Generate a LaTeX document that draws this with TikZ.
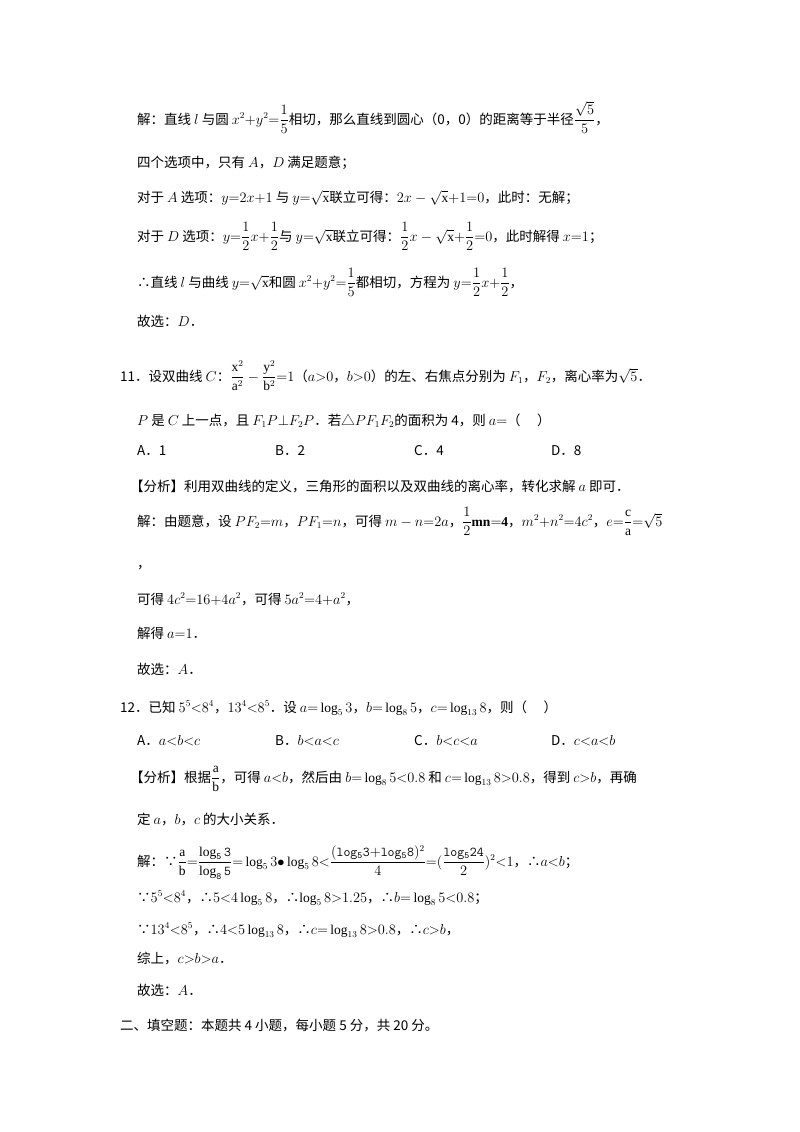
\documentclass[tikz,border=0pt]{standalone}
\usepackage{amsmath}
\usepackage{fontspec}
\setmainfont{Liberation Serif}
\newfontfamily\cjk{Noto Sans CJK SC}
\begin{document}
\begin{tikzpicture}[x=1pt,y=-1pt,
  txt/.style={anchor=base west,inner sep=0pt,font=\cjk\fontsize{13.5}{16}\selectfont}]
\useasboundingbox[fill=white] (0,0) rectangle (800,1132);
\node[txt] (l1) at (137,124) {解：直线 $l$ 与圆 $x^2{+}y^2{=}\dfrac{1}{5}$相切，那么直线到圆心（0，0）的距离等于半径$\dfrac{\sqrt5}{5}$，};
\node[txt] (l2) at (137,167) {四个选项中，只有 $A$，$D$ 满足题意；};
\node[txt] (l3) at (137,202) {对于 $A$ 选项：$y{=}2x{+}1$ 与 $y{=}\sqrt{\mathrm{x}}$联立可得：$2x-\sqrt{\mathrm{x}}{+}1{=}0$，此时：无解；};
\node[txt] (l4) at (137,241) {对于 $D$ 选项：$y{=}\dfrac12x{+}\dfrac12$与 $y{=}\sqrt{\mathrm{x}}$联立可得：$\dfrac12x-\sqrt{\mathrm{x}}{+}\dfrac12{=}0$，此时解得 $x{=}1$；};
\node[txt] (l5) at (137,287) {∴直线 $l$ 与曲线 $y{=}\sqrt{\mathrm{x}}$和圆 $x^2{+}y^2{=}\dfrac15$都相切，方程为 $y{=}\dfrac12x{+}\dfrac12$，};
\node[txt] (l6) at (137,326) {故选：$D$．};
\node[txt] (q11) at (120,381) {11．设双曲线 $C$：$\dfrac{\mathrm{x}^2}{\mathrm{a}^2}-\dfrac{\mathrm{y}^2}{\mathrm{b}^2}{=}1$（$a{>}0$，$b{>}0$）的左、右焦点分别为 $F_1$，$F_2$，离心率为$\sqrt5$．};
\node[txt] (q11b) at (137,425) {$P$ 是 $C$ 上一点，且 $F_1P{\perp}F_2P$．若△$PF_1F_2$的面积为 4，则 $a{=}$（\quad\ ）};
\node[txt] (o1) at (137,455) {A．1};
\node[txt] (o2) at (275,455) {B．2};
\node[txt] (o3) at (414,455) {C．4};
\node[txt] (o4) at (551,455) {D．8};
\node[txt] (a1) at (130,491) {【分析】利用双曲线的定义，三角形的面积以及双曲线的离心率，转化求解 $a$ 即可．};
\node[txt] (a2) at (137,526) {解：由题意，设 $PF_2{=}m$，$PF_1{=}n$，可得 $m-n{=}2a$，$\dfrac{1}{2}\mathbf{mn{=}4}$，$m^2{+}n^2{=}4c^2$，$e{=}\dfrac{\mathrm{c}}{\mathrm{a}}{=}\sqrt5$};
\node[txt] (a3) at (137,568) {，};
\node[txt] (a4) at (137,604) {可得 $4c^2{=}16{+}4a^2$，可得 $5a^2{=}4{+}a^2$，};
\node[txt] (a5) at (137,638) {解得 $a{=}1$．};
\node[txt] (a6) at (137,674) {故选：$A$．};
\node[txt] (q12) at (120,712) {12．已知 $5^5{<}8^4$，$13^4{<}8^5$．设 $a{=}\log_5 3$，$b{=}\log_8 5$，$c{=}\log_{13}8$，则（\quad\ ）};
\node[txt] (p1) at (137,745) {A．$a{<}b{<}c$};
\node[txt] (p2) at (275,745) {B．$b{<}a{<}c$};
\node[txt] (p3) at (414,745) {C．$b{<}c{<}a$};
\node[txt] (p4) at (551,745) {D．$c{<}a{<}b$};
\node[txt] (b1) at (130,782) {【分析】根据$\dfrac{\mathrm{a}}{\mathrm{b}}$，可得 $a{<}b$，然后由 $b{=}\log_8 5{<}0.8$ 和 $c{=}\log_{13}8{>}0.8$，得到 $c{>}b$，再确};
\node[txt] (b2) at (137,824) {定 $a$，$b$，$c$ 的大小关系．};
\node[txt] (b3) at (137,866) {解：∵$\dfrac{\mathrm{a}}{\mathrm{b}}{=}\dfrac{\mathtt{\log_5 3}}{\mathtt{\log_8 5}}{=}\log_5 3{\bullet}\log_5 8{<}\dfrac{(\mathtt{log_5 3{+}log_5 8})^2}{4}{=}(\dfrac{\mathtt{log_5 24}}{2})^2{<}1$，∴$a{<}b$；};
\node[txt] (b4) at (137,902) {∵$5^5{<}8^4$，∴$5{<}4\log_5 8$，∴$\log_5 8{>}1.25$，∴$b{=}\log_8 5{<}0.8$；};
\node[txt] (b5) at (137,934) {∵$13^4{<}8^5$，∴$4{<}5\log_{13}8$，∴$c{=}\log_{13}8{>}0.8$，∴$c{>}b$，};
\node[txt] (b6) at (137,963) {综上，$c{>}b{>}a$．};
\node[txt] (b7) at (137,995) {故选：$A$．};
\node[txt] (s2) at (120,1030) {二、填空题：本题共 4 小题，每小题 5 分，共 20 分。};
\end{tikzpicture}
\end{document}
